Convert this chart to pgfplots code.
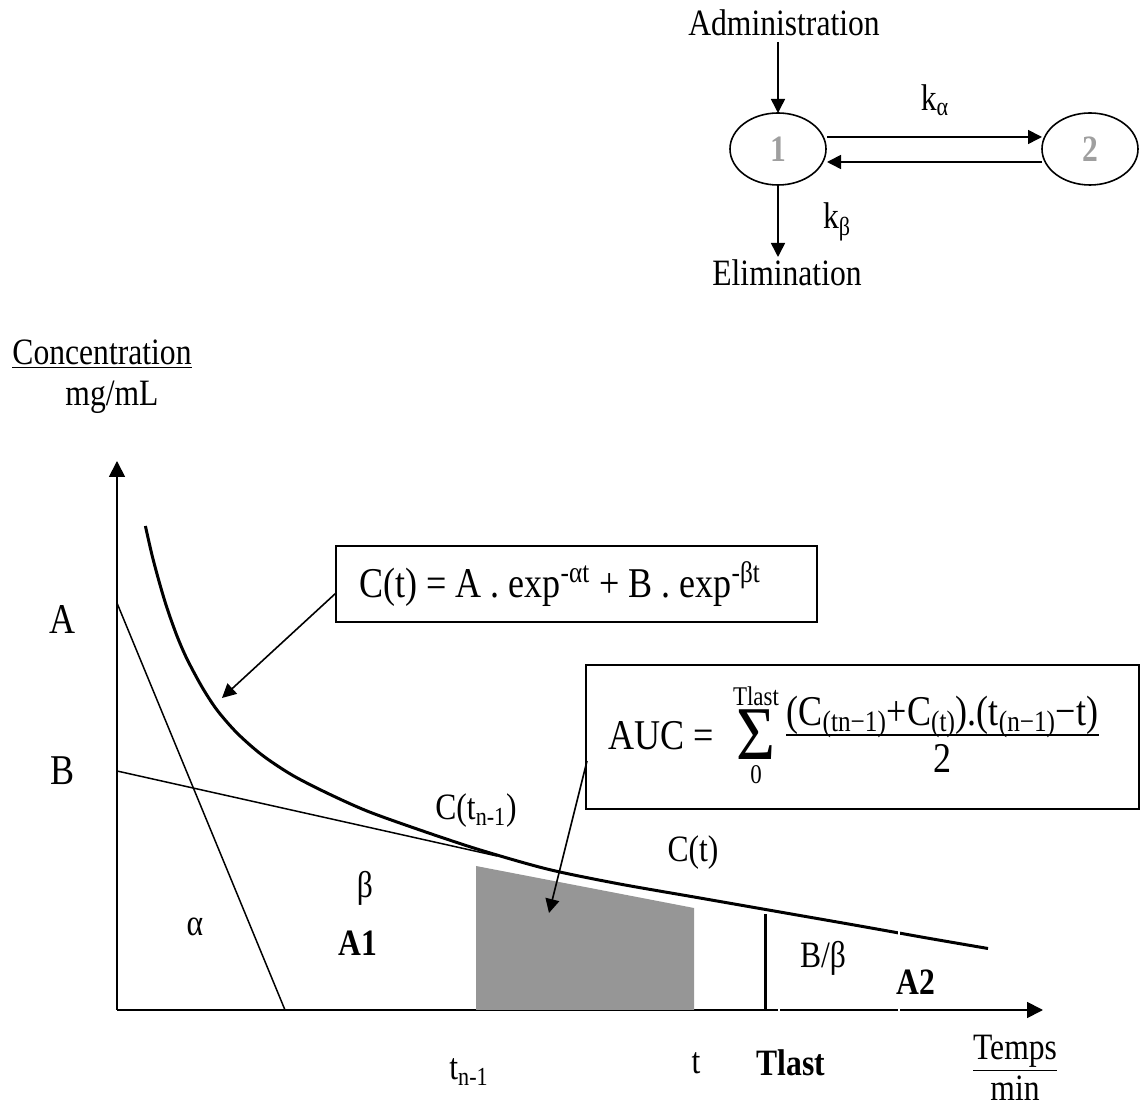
\documentclass[border=0pt]{standalone}
\usepackage{fontspec}
\setmainfont{Liberation Serif}
\usepackage{graphicx}
\usepackage{pgfplots}
\pgfplotsset{compat=1.18}
\usetikzlibrary{arrows.meta}
\definecolor{aucgray}{RGB}{150,150,150}
% slightly condensed lettering
\newcommand{\sq}[1]{\scalebox{0.85}[1]{#1}}
% summation sign with its limits, stacked
\newcommand{\sumstack}{\vbox{\offinterlineskip\halign{\hfil##\hfil\cr
  {\fontsize{13.5}{16}\selectfont\sq{Tlast}}\cr
  \noalign{\kern2pt}
  {\fontsize{38}{38}\selectfont\scalebox{0.88}[1.0]{Σ}}\cr
  \noalign{\kern3pt}
  {\fontsize{13.5}{16}\selectfont\sq{0}}\cr}}}

% Two-compartment model: concentration curve C(t) = A e^{-alpha t} + B e^{-beta t}
\pgfplotstableread{
t     C
2.84  48.4
3.5   45.5
4.25  42.7
5.0   40.2
6.0   37.4
7.0   35.1
8.5   32.3
10.0  30.0
12.0  27.7
14.5  25.5
17.5  23.5
21.0  21.7
25.0  19.9
30.0  18.1
36.0  16.1
43.0  14.1
50.0  12.65
58.0  11.25
66.0  9.85
74.0  8.45
81.0  7.2
87.1  6.15
}\conccurve

\begin{document}
\begin{tikzpicture}[
  lbl/.style={font=\fontsize{18.6}{22}\selectfont, inner sep=0pt},
  big/.style={font=\fontsize{21.2}{25}\selectfont, inner sep=0pt},
  tip/.style={-{Triangle[length=7pt,width=7pt]}, line width=0.8pt},
]
\begin{axis}[
  x=5pt, y=5pt,
  xmin=0, xmax=92.6, ymin=0, ymax=54.9,
  axis lines=left,
  axis line style={line width=0.9pt, -{Triangle[length=8pt,width=8pt]}},
  xtick=\empty, ytick=\empty,
  clip=false,
]
% page frame
\path (axis cs:-11.7,-9.8) rectangle (axis cs:102.4,101.0);

% trapezoid between t_{n-1} and t
\addplot[fill=aucgray, draw=none] coordinates {(35.9,14.4) (57.7,10.2)} \closedcycle;

% alpha and beta phases
\addplot[line width=0.75pt] coordinates {(0,40.7) (16.8,0)};
\addplot[line width=0.75pt] coordinates {(0,23.9) (38,15.4)};

% concentration curve
\addplot[line width=1.5pt, smooth, tension=0.5] table[x=t, y=C] {\conccurve};

% Tlast
\addplot[line width=1.5pt] coordinates {(64.8,0) (64.8,9.6)};

% thin white breaks in the curve and the time axis
\draw[white, line width=0.9pt] (axis cs:78.2,6.9) -- (axis cs:78.2,8.5);
\draw[white, line width=0.9pt] (axis cs:78.2,-0.4) -- (axis cs:78.2,0.4);
\draw[white, line width=0.9pt] (axis cs:66.2,-0.4) -- (axis cs:66.2,0.4);

% axis titles
\node[lbl] at (axis cs:-1.5,65.6) {\sq{\underline{Concentration}}};
\node[lbl] at (axis cs:-0.5,61.3) {\sq{mg/mL}};
\node[lbl] at (axis cs:89.8,-4.3) {\sq{\underline{Temps}}};
\node[lbl] at (axis cs:89.8,-7.8) {\sq{min}};

\node[big] at (axis cs:-5.4,39.0) {\sq{A}};
\node[big] at (axis cs:-5.4,23.9) {\sq{B}};

\node[lbl] at (axis cs:35.2,-6.2) {\sq{t\textsubscript{n-1}}};
\node[lbl] at (axis cs:57.9,-5.3) {\sq{t}};
\node[lbl] at (axis cs:67.4,-5.3) {\sq{\textbf{Tlast}}};

% region labels
\node[lbl] at (axis cs:35.9,19.9) {\sq{C(t\textsubscript{n-1})}};
\node[lbl] at (axis cs:57.6,15.7) {\sq{C(t)}};
\node[lbl] at (axis cs:24.8,12.2) {\sq{β}};
\node[lbl] at (axis cs:7.8,8.3) {\sq{α}};
\node[lbl] at (axis cs:24.1,6.7) {\sq{\textbf{A1}}};
\node[lbl] at (axis cs:70.6,5.2) {\sq{B/β}};
\node[lbl] at (axis cs:79.9,2.8) {\sq{\textbf{A2}}};

% equation box C(t)
\draw[line width=1pt] (axis cs:21.9,38.8) rectangle (axis cs:70.0,46.4);
\node[big] at (axis cs:44.3,42.6) {\sq{C(t) = A . exp\textsuperscript{-αt} + B . exp\textsuperscript{-βt}}};
\draw[tip] (axis cs:21.9,41.7) -- (axis cs:10.5,31.2);

% AUC box
\draw[line width=1pt] (axis cs:46.9,20.1) rectangle (axis cs:102.2,34.5);
\node[big] at (axis cs:54.4,27.4) {\sq{AUC =}};
\node[inner sep=0pt] at (axis cs:63.9,27.5) {\sumstack};
\node[big] at (axis cs:82.55,29.3) {\sq{(C\textsubscript{(tn−1)}+C\textsubscript{(t)}).(t\textsubscript{(n−1)}−t)}};
\draw[line width=0.6pt] (axis cs:66.9,27.5) -- (axis cs:98.2,27.5);
\node[big] at (axis cs:82.55,25.2) {\sq{2}};
\draw[tip] (axis cs:47.0,24.9) -- (axis cs:43.2,9.7);

% compartment scheme
\node[lbl] at (axis cs:66.7,98.7) {\sq{Administration}};
\draw[tip] (axis cs:66.1,96.8) -- (axis cs:66.1,89.7);
\draw[line width=0.8pt] (axis cs:66.1,86.1) ellipse [x radius=24pt, y radius=18pt];
\draw[line width=0.8pt] (axis cs:97.3,86.1) ellipse [x radius=24pt, y radius=18pt];
\node[lbl, text=gray!75] at (axis cs:66.1,86.1) {\sq{\textbf{1}}};
\node[lbl, text=gray!75] at (axis cs:97.3,86.1) {\sq{\textbf{2}}};
\draw[tip] (axis cs:71.0,87.3) -- (axis cs:92.5,87.3);
\draw[tip] (axis cs:92.5,84.8) -- (axis cs:71.0,84.8);
\node[lbl] at (axis cs:81.8,91.0) {\sq{k\textsubscript{α}}};
\draw[tip] (axis cs:66.1,82.5) -- (axis cs:66.1,75.3);
\node[lbl] at (axis cs:72.0,78.8) {\sq{k\textsubscript{β}}};
\node[lbl] at (axis cs:67.0,73.7) {\sq{Elimination}};
\end{axis}
\end{tikzpicture}
\end{document}
